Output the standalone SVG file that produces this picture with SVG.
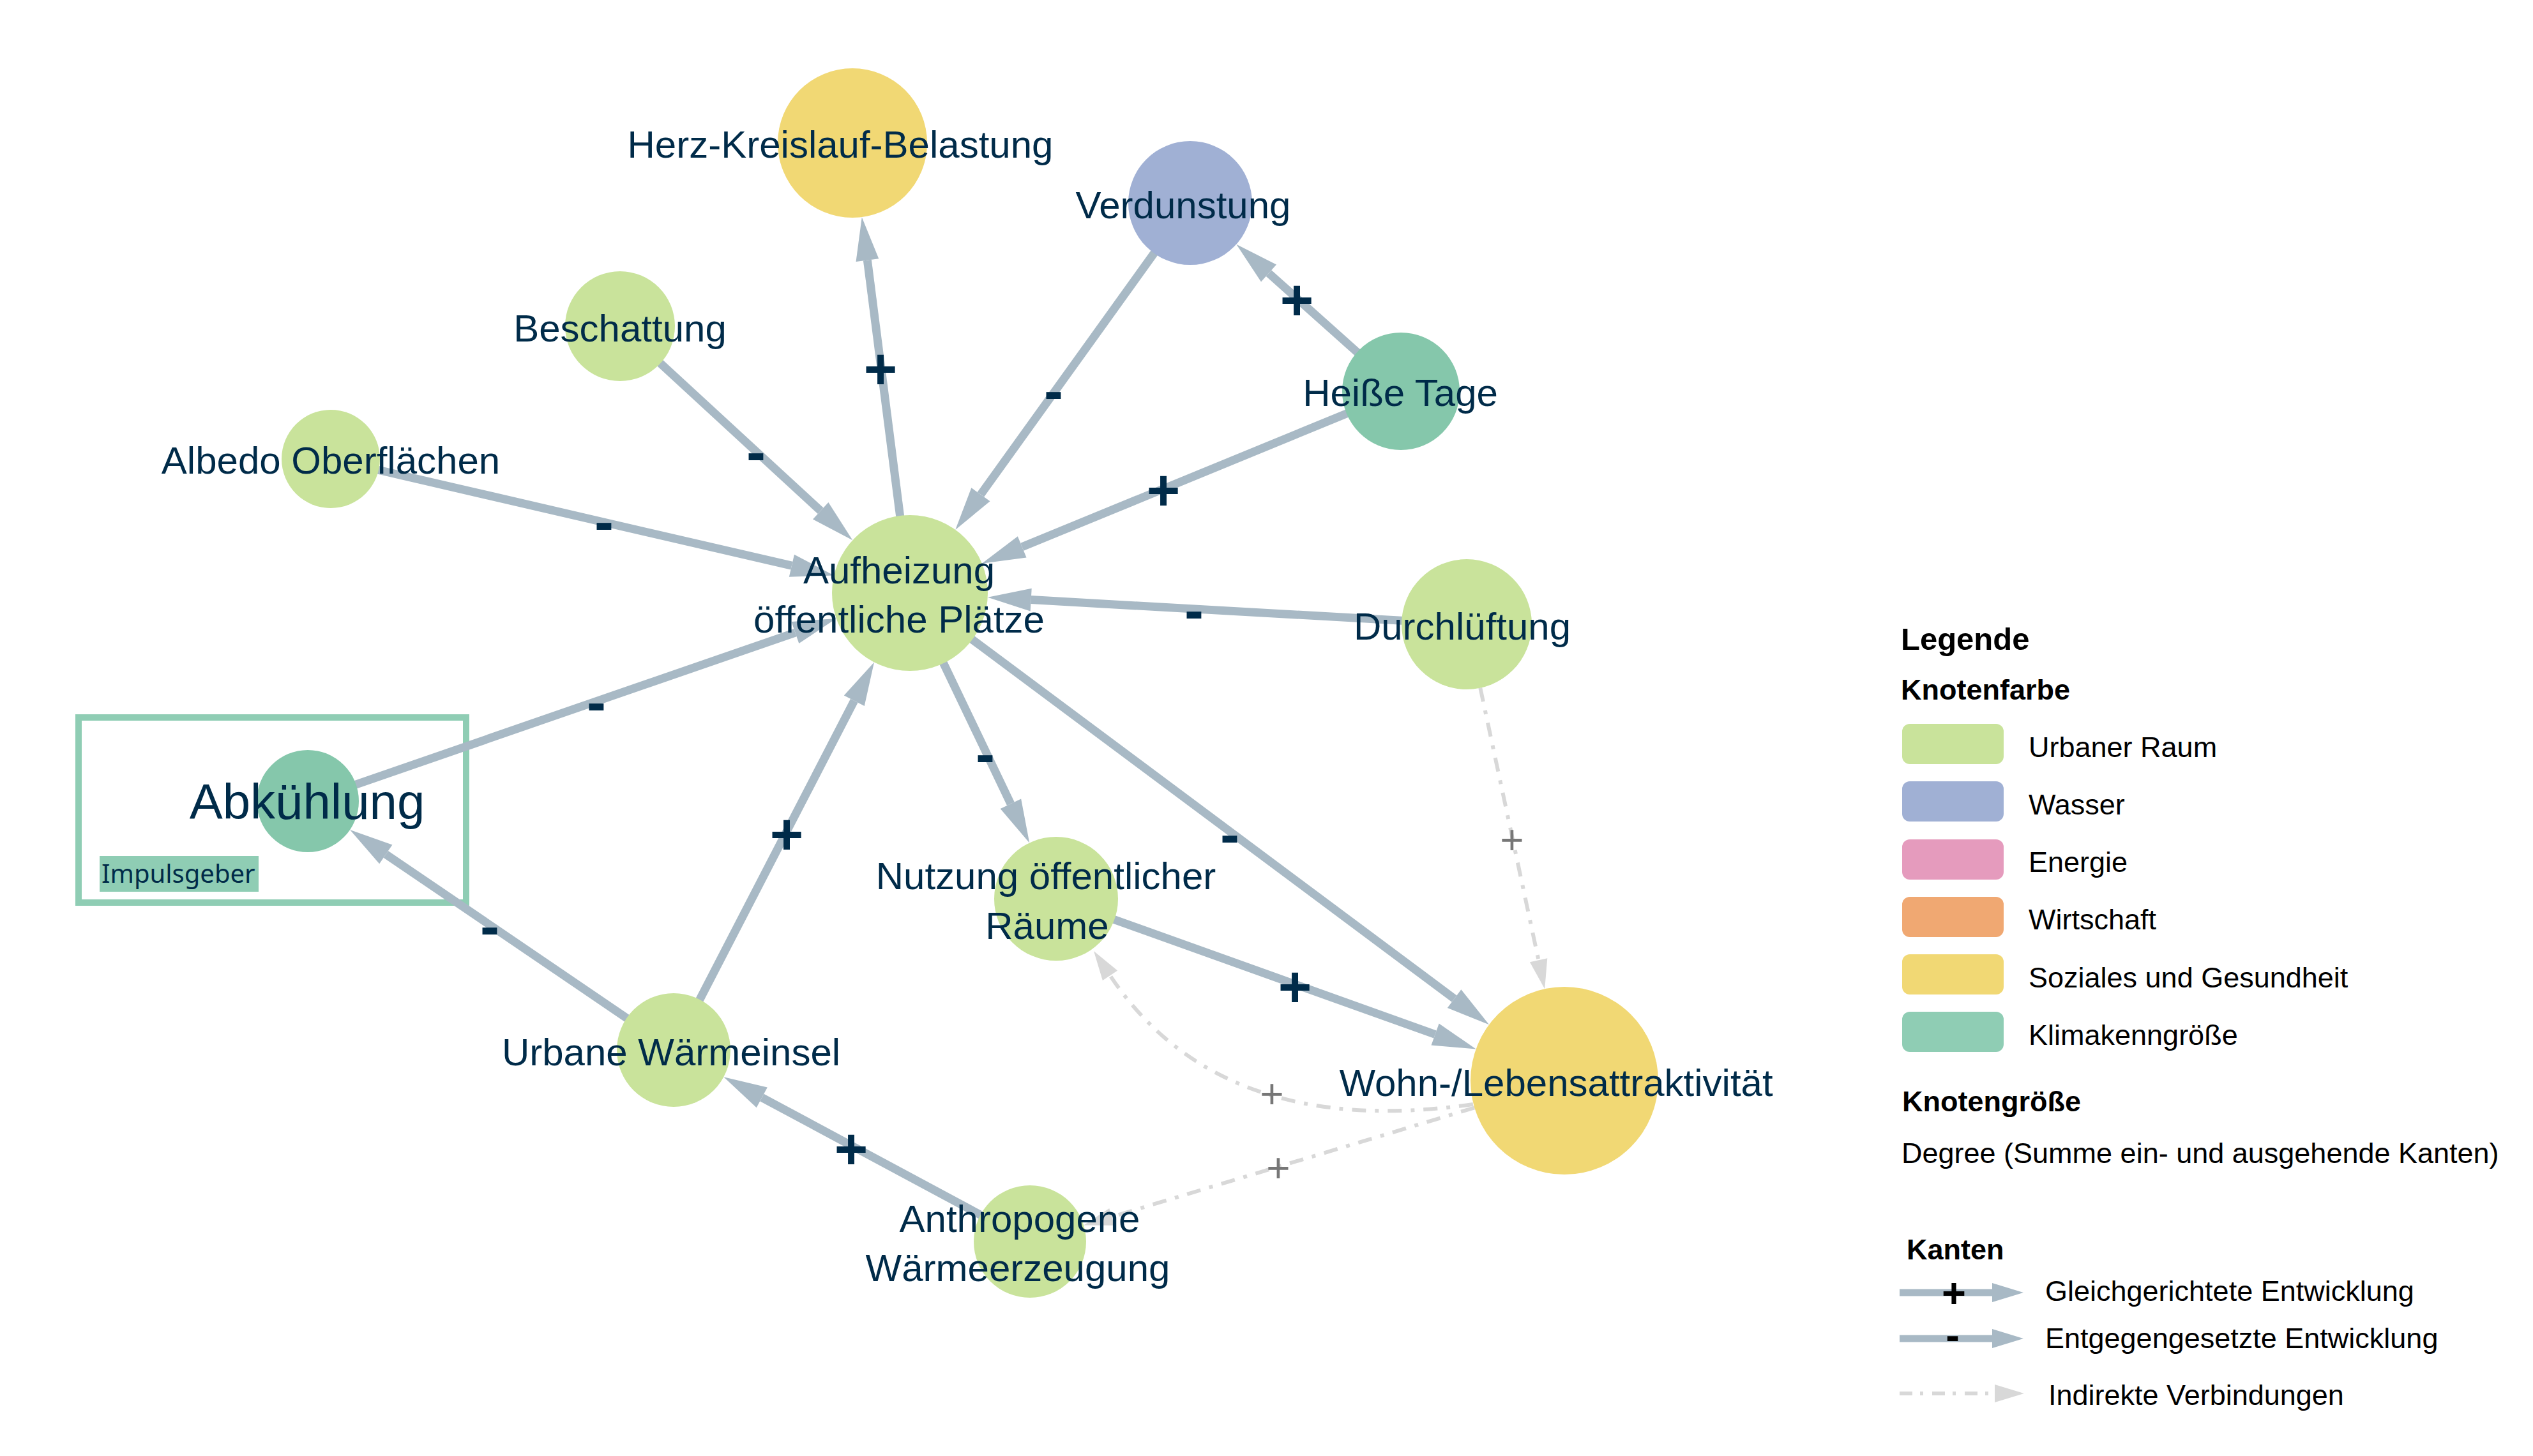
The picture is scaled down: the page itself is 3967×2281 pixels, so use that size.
<svg xmlns="http://www.w3.org/2000/svg" width="3967" height="2281" viewBox="0 0 3967 2281">
<style>
.edge{fill:none;stroke:#a8b9c5;stroke-width:13;marker-end:url(#arr)}
.ind{fill:none;stroke:#d8d8d8;stroke-width:6;stroke-dasharray:22 14 6 14;marker-end:url(#arri)}
.lbl{font-family:"Liberation Sans",Arial,sans-serif;font-size:60px;fill:#002b49;text-anchor:middle}
.sign{font-family:"Liberation Sans",Arial,sans-serif;font-size:90px;font-weight:bold;fill:#002b49;text-anchor:middle}
.isign{font-family:"Liberation Sans",Arial,sans-serif;font-size:64px;fill:#777777;text-anchor:middle}
.lt{font-family:"Liberation Sans",Arial,sans-serif;font-size:45px;fill:#000}
.lh{font-family:"Liberation Sans",Arial,sans-serif;font-size:45px;font-weight:bold;fill:#000}
.ur{fill:#c9e39b}.wa{fill:#a0b0d4}.en{fill:#e59bbd}.wi{fill:#f0a872}.so{fill:#f1d874}.kl{fill:#85c7ab}
</style>
<defs>
<marker id="arr" markerUnits="userSpaceOnUse" markerWidth="68" markerHeight="36" refX="0" refY="18" orient="auto" overflow="visible"><path d="M0,0 L68,18 L0,36 z" fill="#a8b9c5"/></marker>
<marker id="arri" markerUnits="userSpaceOnUse" markerWidth="46" markerHeight="28" refX="0" refY="14" orient="auto" overflow="visible"><path d="M0,0 L46,14 L0,28 z" fill="#d8d8d8"/></marker>
<marker id="larr" markerUnits="userSpaceOnUse" markerWidth="49" markerHeight="30" refX="0" refY="15" orient="auto" overflow="visible"><path d="M0,0 L49,15 L0,30 z" fill="#a8b9c5"/></marker>
<marker id="larri" markerUnits="userSpaceOnUse" markerWidth="46" markerHeight="28" refX="0" refY="14" orient="auto" overflow="visible"><path d="M0,0 L46,14 L0,28 z" fill="#d8d8d8"/></marker>
</defs>
<rect width="3967" height="2281" fill="#ffffff"/>
<g id="impulsgeber-box">
<rect x="123" y="1124" width="607" height="290" fill="none" stroke="#8fcdb4" stroke-width="10"/>
<rect x="156" y="1341" width="249" height="56" fill="#8fcdb4"/>
<text x="159" y="1383" style="font-family:'Noto Sans',sans-serif;font-size:40px;fill:#002b49">Impulsgeber</text>
</g>
<g id="connectors">
<path class="edge" d="M1425,929 L1358.4,407.6"/>
<path class="edge" d="M1864,318 L1535.9,774.7"/>
<path class="edge" d="M2194,613 L1987,428"/>
<path class="edge" d="M2194,613 L1600.7,856.8"/>
<path class="edge" d="M971,511 L1285.2,800.3"/>
<path class="edge" d="M518,719 L1239.9,886.2"/>
<path class="edge" d="M2297,978 L1614.7,939.6"/>
<path class="edge" d="M482,1255 L1245.4,991.1"/>
<path class="edge" d="M1055,1645 L1337.8,1097.8"/>
<path class="edge" d="M1055,1645 L604.3,1338.3"/>
<path class="edge" d="M1425,929 L1582.9,1259.2"/>
<path class="edge" d="M1425,929 L2277.6,1564.6"/>
<path class="edge" d="M1654,1408 L2247.6,1620.5"/>
<path class="edge" d="M1613,1945 L1193.3,1719.4"/>
<path class="ind" d="M2318.3,1077.7 L2409.6,1504.3"/>
<path class="ind" d="M2307,1730 Q1911,1787 1738.5,1528.3"/>
<path class="ind" d="M2309.2,1735.4 L1741.3,1906.3"/>
<text class="sign" x="1379" y="609">+</text>
<text class="sign" x="1650" y="643">-</text>
<text class="sign" x="2031" y="501">+</text>
<text class="sign" x="1822" y="799">+</text>
<text class="sign" x="1184" y="739">-</text>
<text class="sign" x="946" y="848">-</text>
<text class="sign" x="1870" y="987">-</text>
<text class="sign" x="934" y="1131">-</text>
<text class="sign" x="1232" y="1338">+</text>
<text class="sign" x="767" y="1482">-</text>
<text class="sign" x="1543" y="1212">-</text>
<text class="sign" x="1926" y="1338">-</text>
<text class="sign" x="2028" y="1577">+</text>
<text class="sign" x="1333" y="1831">+</text>
<text class="isign" x="2368" y="1338">+</text>
<text class="isign" x="1992" y="1736">+</text>
<text class="isign" x="2002" y="1852">+</text>
</g>
<g id="herz"><circle class="so" cx="1335" cy="224" r="117"/><text class="lbl" x="1316" y="247">Herz-Kreislauf-Belastung</text></g>
<g id="verdunstung"><circle class="wa" cx="1864" cy="318" r="97"/><text class="lbl" x="1853" y="342">Verdunstung</text></g>
<g id="beschattung"><circle class="ur" cx="971" cy="511" r="86"/><text class="lbl" x="971" y="535">Beschattung</text></g>
<g id="heisse-tage"><circle class="kl" cx="2194" cy="613" r="92"/><text class="lbl" x="2193" y="636">Heiße Tage</text></g>
<g id="albedo"><circle class="ur" cx="518" cy="719" r="77"/><text class="lbl" x="518" y="742">Albedo Oberflächen</text></g>
<g id="aufheizung"><circle class="ur" cx="1425" cy="929" r="122"/><text class="lbl" x="1408" y="914">Aufheizung</text><text class="lbl" x="1408" y="991">öffentliche Plätze</text></g>
<g id="durchlueftung"><circle class="ur" cx="2297" cy="978" r="102"/><text class="lbl" x="2290" y="1002">Durchlüftung</text></g>
<g id="abkuehlung"><circle class="kl" cx="482" cy="1255" r="80"/><text class="lbl" x="481" y="1283" style="font-size:78px">Abkühlung</text></g>
<g id="nutzung"><circle class="ur" cx="1654" cy="1408" r="97"/><text class="lbl" x="1638" y="1393">Nutzung öffentlicher</text><text class="lbl" x="1640" y="1471">Räume</text></g>
<g id="waermeinsel"><circle class="ur" cx="1055" cy="1645" r="89"/><text class="lbl" x="1051" y="1669">Urbane Wärmeinsel</text></g>
<g id="wohn"><circle class="so" cx="2450" cy="1693" r="147"/><text class="lbl" x="2437" y="1717">Wohn-/Lebensattraktivität</text></g>
<g id="anthropogen"><circle class="ur" cx="1613" cy="1945" r="88"/><text class="lbl" x="1597" y="1930">Anthropogene</text><text class="lbl" x="1594" y="2007">Wärmeerzeugung</text></g>
<g id="legend">
<text class="lh" x="2977" y="1018" style="font-size:49px">Legende</text>
<text class="lh" x="2977" y="1096">Knotenfarbe</text>
<rect class="ur" x="2979" y="1134" width="159" height="63" rx="12"/>
<rect class="wa" x="2979" y="1224" width="159" height="63" rx="12"/>
<rect class="en" x="2979" y="1315" width="159" height="63" rx="12"/>
<rect class="wi" x="2979" y="1405" width="159" height="63" rx="12"/>
<rect class="so" x="2979" y="1495" width="159" height="63" rx="12"/>
<rect x="2979" y="1585" width="159" height="63" rx="12" fill="#8fcdb4"/>
<text class="lt" x="3177" y="1186">Urbaner Raum</text>
<text class="lt" x="3177" y="1276">Wasser</text>
<text class="lt" x="3177" y="1366">Energie</text>
<text class="lt" x="3177" y="1456">Wirtschaft</text>
<text class="lt" x="3177" y="1547">Soziales und Gesundheit</text>
<text class="lt" x="3177" y="1637">Klimakenngröße</text>
<text class="lh" x="2979" y="1741">Knotengröße</text>
<text class="lt" x="2978" y="1822">Degree (Summe ein- und ausgehende Kanten)</text>
<text class="lh" x="2986" y="1973">Kanten</text>
<path d="M2975,2025 L3120,2025" fill="none" stroke="#a8b9c5" stroke-width="11" marker-end="url(#larr)"/>
<text x="3060" y="2048" style="font-family:'Liberation Sans',Arial,sans-serif;font-size:65px;font-weight:bold;fill:#000;text-anchor:middle">+</text>
<text class="lt" x="3203" y="2038">Gleichgerichtete Entwicklung</text>
<path d="M2975,2097 L3120,2097" fill="none" stroke="#a8b9c5" stroke-width="11" marker-end="url(#larr)"/>
<text x="3058" y="2114" style="font-family:'Liberation Sans',Arial,sans-serif;font-size:65px;font-weight:bold;fill:#000;text-anchor:middle">-</text>
<text class="lt" x="3203" y="2112">Entgegengesetzte Entwicklung</text>
<path d="M2975,2183 L3124,2183" fill="none" stroke="#d8d8d8" stroke-width="6" stroke-dasharray="20 12 5 14" marker-end="url(#larri)"/>
<text class="lt" x="3208" y="2201">Indirekte Verbindungen</text>
</g>
</svg>
